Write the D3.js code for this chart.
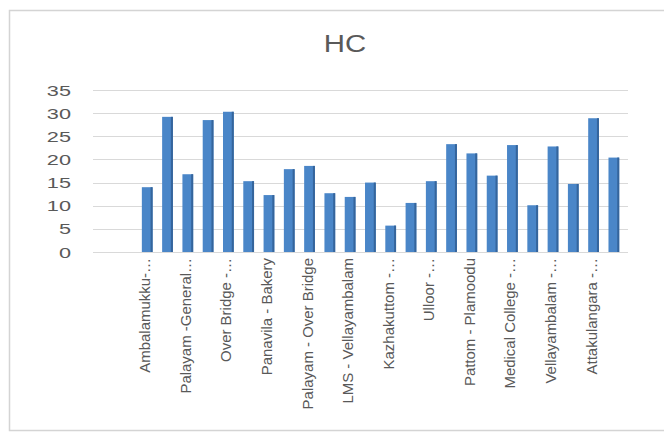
<!DOCTYPE html>
<html>
<head>
<meta charset="utf-8">
<script src="https://cdn.jsdelivr.net/npm/d3@7/dist/d3.min.js"></script>
<style>
  body { margin: 0; background: #fff; }
  svg { display: block; }
</style>
</head>
<body>
<svg id="chart" width="664" height="435"></svg>
<script>
// HC readings per location (two leading empty slots, as in the source sheet)
const chartTitle = "HC";
const hcValues = [null, null,
  14.0, 29.2, 16.8, 28.5, 30.3, 15.3, 12.3, 17.9, 18.6, 12.7, 11.9, 15.0,
  5.7, 10.6, 15.3, 23.3, 21.3, 16.5, 23.1, 10.1, 22.8, 14.7, 28.9, 20.4];
// Category labels shown on every other slot
const axisLabels = ["", "Ambalamukku-\u2026", "Palayam -General\u2026", "Over Bridge -\u2026",
  "Panavila - Bakery", "Palayam - Over Bridge", "LMS - Vellayambalam", "Kazhakuttom -\u2026",
  "Ulloor -\u2026", "Pattom - Plamoodu", "Medical College -\u2026", "Vellayambalam -\u2026",
  "Attakulangara -\u2026"];
const yTicks = [0, 5, 10, 15, 20, 25, 30, 35];

const svg = d3.select("#chart");
const font = "'Liberation Sans', Arial, sans-serif";
const textGray = "#595959";

// chart frame
svg.append("rect")
  .attr("x", 9.5).attr("y", 10.5).attr("width", 700).attr("height", 420)
  .attr("fill", "#fff").attr("stroke", "#d4d4d4").attr("stroke-width", 1.5);

const x = d3.scaleBand()
  .domain(d3.range(hcValues.length))
  .range([96.5, 624])
  .paddingInner(0.47)
  .paddingOuter(0.235);

const y = d3.scaleLinear().domain([0, 35]).range([252, 90]);

// horizontal gridlines
svg.append("g").selectAll("line")
  .data(yTicks)
  .join("line")
  .attr("x1", 93).attr("x2", 628)
  .attr("y1", d => Math.round(y(d)) + 0.5)
  .attr("y2", d => Math.round(y(d)) + 0.5)
  .attr("stroke", "#d9d9d9").attr("stroke-width", 1.2);

// value axis labels
const yAxis = svg.append("g")
  .attr("transform", "translate(71,0)")
  .call(d3.axisLeft(y).tickValues(yTicks).tickSize(0).tickPadding(0));
yAxis.select(".domain").remove();
yAxis.selectAll("text")
  .attr("x", 0).attr("dy", "0.36em")
  .attr("transform", "scale(1.55,1)")
  .attr("fill", textGray)
  .style("font-family", font).style("font-size", "14px");

// bars
const barData = hcValues.map((v, i) => ({ i, v })).filter(d => d.v != null);
const bars = svg.append("g");
bars.selectAll("rect.bar")
  .data(barData)
  .join("rect")
  .attr("class", "bar")
  .attr("x", d => x(d.i))
  .attr("width", x.bandwidth())
  .attr("y", d => y(d.v))
  .attr("height", d => y(0) - y(d.v))
  .attr("fill", "#4a86c8");
bars.selectAll("rect.edge")
  .data(barData)
  .join("rect")
  .attr("class", "edge")
  .attr("x", d => x(d.i) + x.bandwidth() - 2)
  .attr("width", 2)
  .attr("y", d => y(d.v))
  .attr("height", d => y(0) - y(d.v))
  .attr("fill", "#35659c");

// category axis labels
const xAxis = svg.append("g")
  .attr("transform", `translate(0,${y(0)})`)
  .call(d3.axisBottom(x)
    .tickValues(d3.range(0, hcValues.length, 2))
    .tickFormat(i => axisLabels[i / 2])
    .tickSize(0));
xAxis.select(".domain").remove();
xAxis.selectAll("text")
  .attr("x", 0).attr("y", 0).attr("dy", null)
  .attr("text-anchor", "end")
  .attr("transform", "translate(3,6) rotate(-90) scale(1.07,1)")
  .attr("fill", textGray)
  .style("font-family", font).style("font-size", "14px");

// title
svg.append("text")
  .attr("transform", "translate(345,52) scale(1.25,1)")
  .attr("text-anchor", "middle")
  .attr("fill", textGray)
  .style("font-family", font).style("font-size", "23.5px")
  .text(chartTitle);
</script>
</body>
</html>
